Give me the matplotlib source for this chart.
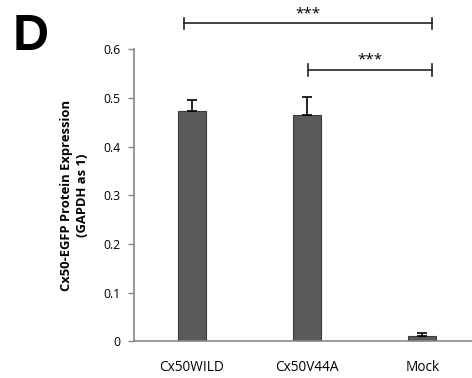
import matplotlib
matplotlib.use("Agg")
import matplotlib.pyplot as plt

groups = ["Cx50WILD", "Cx50V44A", "Mock"]
expression = [0.474, 0.465, 0.012]
errors = [0.022, 0.037, 0.005]
yticks = [0, 0.1, 0.2, 0.3, 0.4, 0.5, 0.6]
ytick_labels = ["0", "0.1", "0.2", "0.3", "0.4", "0.5", "0.6"]

plt.rcParams['font.family'] = ['Open Sans', 'DejaVu Sans']

fig = plt.figure(figsize=(4.72, 3.78), dpi=100)
ax = fig.add_axes([0.284, 0.0966, 0.733, 0.773])

x = range(len(groups))
ax.bar(x, expression, width=0.245, color="#5a5a5a", edgecolor="#3c3c3c",
       linewidth=0.8, zorder=2)
ax.errorbar(x, expression, yerr=[[0]*len(errors), errors], fmt="none",
            ecolor="black", elinewidth=1.2, capsize=3.5, capthick=1.2, zorder=3)

ax.set_xlim(-0.5, 2.5)
ax.set_ylim(0, 0.6)
ax.set_yticks(yticks)
ax.set_yticklabels(ytick_labels, fontsize=8.8)
ax.set_xticks(list(x))
ax.set_xticklabels(groups, fontsize=9.8)
ax.tick_params(axis="x", length=0, pad=13)
ax.tick_params(axis="y", length=4, color="#888888", width=1, pad=6)
for side in ["top", "right"]:
    ax.spines[side].set_visible(False)
for side in ["left", "bottom"]:
    ax.spines[side].set_color("#888888")
    ax.spines[side].set_linewidth(1.2)

ax.set_ylabel("Cx50-EGFP Protein Expression\n(GAPDH as 1)", fontsize=9.4,
              fontweight="bold", labelpad=10, linespacing=1.35)


def bracket(x0, x1, y, label):
    ax.plot([x0, x1], [y, y], color="#222222", lw=1.2, clip_on=False)
    for xx in (x0, x1):
        ax.plot([xx, xx], [y - 0.012, y + 0.012], color="#222222", lw=1.2,
                clip_on=False)
    ax.text((x0 + x1) / 2, y + 0.004, label, ha="center", va="bottom",
            fontsize=11, clip_on=False)


bracket(-0.068, 2.086, 0.653, "***")
bracket(1.006, 2.086, 0.558, "***")

fig.text(0.026, 0.868, "D", fontsize=36, fontweight="bold",
         family="Liberation Sans")

fig.savefig("out.png", dpi=100)
